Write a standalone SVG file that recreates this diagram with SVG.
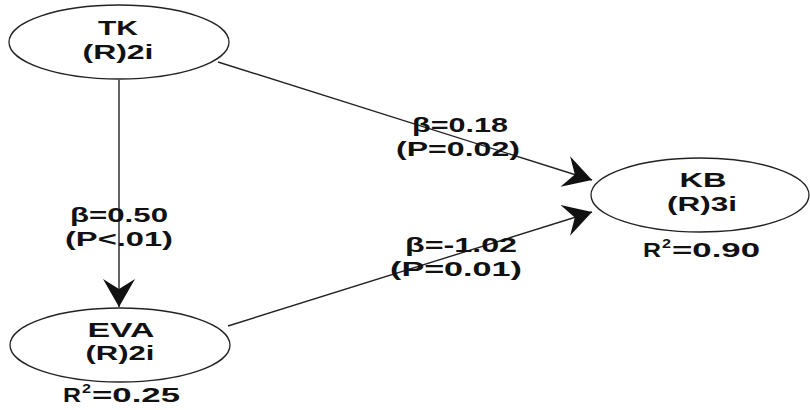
<svg xmlns="http://www.w3.org/2000/svg" width="810" height="410" viewBox="0 0 810 410">
<style>
.node{fill:#fff;stroke:#222;stroke-width:1.3}
.t{font-family:"Liberation Sans",Arial,sans-serif;font-weight:bold;font-size:21px;fill:#111;text-anchor:middle}
.s{font-family:"Liberation Sans",Arial,sans-serif;font-weight:bold;font-size:21px;fill:#111;text-anchor:start}
.sup{font-family:"Liberation Sans",Arial,sans-serif;font-weight:bold;font-size:13px;fill:#111;text-anchor:start}
.e{stroke:#222;stroke-width:1.4;fill:none;marker-end:url(#ah)}
</style>
<defs>
<marker id="ah" markerUnits="userSpaceOnUse" viewBox="-30 -17 32 34" refX="0" refY="0" markerWidth="32" markerHeight="34" orient="auto">
<path d="M0,0 L-28,-16 L-18,0 L-28,16 Z" fill="#111"/>
</marker>
</defs>
<rect width="810" height="410" fill="#fff"/>
<g id="connectors">
<line class="e" x1="119" y1="80" x2="119" y2="307"/>
<line class="e" x1="218" y1="62" x2="592" y2="180"/>
<line class="e" x1="228" y1="326" x2="592" y2="212"/>
<text class="t" x="460" y="132" textLength="96" lengthAdjust="spacingAndGlyphs">β=0.18</text>
<text class="t" x="458" y="156" textLength="124" lengthAdjust="spacingAndGlyphs">(P=0.02)</text>
<text class="t" x="461" y="252" textLength="112" lengthAdjust="spacingAndGlyphs">β=-1.02</text>
<text class="t" x="456" y="276" textLength="132" lengthAdjust="spacingAndGlyphs">(P=0.01)</text>
<text class="t" x="119" y="222" textLength="98" lengthAdjust="spacingAndGlyphs">β=0.50</text>
<text class="t" x="119" y="246" textLength="108" lengthAdjust="spacingAndGlyphs">(P&lt;.01)</text>
</g>
<g id="TK">
<ellipse class="node" cx="119" cy="42" rx="110" ry="37"/>
<text class="t" x="118" y="35" textLength="40" lengthAdjust="spacingAndGlyphs">TK</text>
<text class="t" x="118" y="59" textLength="71" lengthAdjust="spacingAndGlyphs">(R)2i</text>
</g>
<g id="KB">
<ellipse class="node" cx="700" cy="195" rx="109" ry="37"/>
<text class="t" x="703" y="187" textLength="47" lengthAdjust="spacingAndGlyphs">KB</text>
<text class="t" x="702" y="211" textLength="70" lengthAdjust="spacingAndGlyphs">(R)3i</text>
<text class="s" x="643" y="257" textLength="18" lengthAdjust="spacingAndGlyphs">R</text>
<text class="sup" x="662" y="248" textLength="9" lengthAdjust="spacingAndGlyphs">2</text>
<text class="s" x="672" y="257" textLength="88" lengthAdjust="spacingAndGlyphs">=0.90</text>
</g>
<g id="EVA">
<ellipse class="node" cx="120" cy="345" rx="110" ry="37"/>
<text class="t" x="121" y="337" textLength="67" lengthAdjust="spacingAndGlyphs">EVA</text>
<text class="t" x="120" y="360" textLength="69" lengthAdjust="spacingAndGlyphs">(R)2i</text>
<text class="s" x="63" y="402" textLength="18" lengthAdjust="spacingAndGlyphs">R</text>
<text class="sup" x="82" y="393" textLength="9" lengthAdjust="spacingAndGlyphs">2</text>
<text class="s" x="92" y="402" textLength="88" lengthAdjust="spacingAndGlyphs">=0.25</text>
</g>
</svg>
